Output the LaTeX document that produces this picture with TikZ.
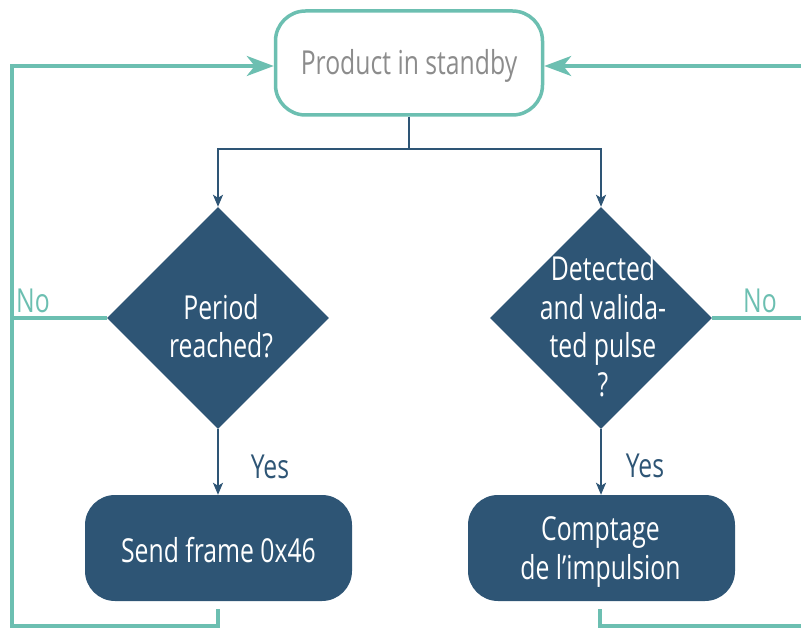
\documentclass[tikz,border=0pt]{standalone}
\usepackage{fontspec}
\setmainfont[FakeStretch=0.75]{Open Sans}
\usetikzlibrary{shapes.geometric,arrows.meta}
\definecolor{tealc}{HTML}{6CBFB1}
\definecolor{bluec}{HTML}{2E5575}
\definecolor{grayc}{HTML}{8C8C8C}
\tikzset{
  startbox/.style={draw=tealc, line width=3.5pt, rounded corners=30pt, minimum width=267pt, minimum height=104pt, inner sep=0pt},
  dia/.style={diamond, fill=bluec, minimum width=222pt, minimum height=222pt, inner sep=0pt, aspect=1},
  procbox/.style={fill=bluec, rounded corners=30pt, minimum width=267pt, minimum height=106pt, inner sep=0pt},
  lbl/.style={text=white, align=center, inner sep=0pt},
  graylbl/.style={text=grayc, inner sep=0pt},
  bline/.style={draw=bluec, line width=2pt},
  barrow/.style={bline, -{Stealth[length=12pt,width=10pt,inset=3pt]}},
  tline/.style={draw=tealc, line width=3.5pt},
  tarrow/.style={tline, -{Stealth[length=27pt,width=20pt,inset=8pt]}},
  nolbl/.style={text=tealc, inner sep=0pt},
  yeslbl/.style={text=bluec, inner sep=0pt}
}
\begin{document}
\begin{tikzpicture}[x=1pt,y=-1pt,font=\fontsize{33}{38.5}\selectfont]
\clip (0,0) rectangle (801,628);
\node[startbox] (start) at (409,63) {};
\node[graylbl] (startt) at (409,66) {Product in standby};
\node[dia] (d1) at (218,318) {};
\node[lbl] (d1t) at (221,326) {Period\\reached?};
\node[dia] (d2) at (601,318) {};
\node[lbl] (d2t) at (603,326) {Detected\\and valida-\\ted pulse\\?};
\node[procbox] (p1) at (218.5,548) {};
\node[lbl] (p1t) at (218.5,550) {Send frame 0x46};
\node[procbox] (p2) at (601.5,548) {};
\node[lbl] (p2t) at (600.5,552) {Comptage\\de l’impulsion};
\node[yeslbl] (y1) at (270,467) {Yes};
\node[yeslbl] (y2) at (645,466) {Yes};
\node[nolbl] (n1) at (33,301) {No};
\node[nolbl] (n2) at (760,301) {No};
% blue connectors
\coordinate (bus) at (409,149);
\draw[bline] (start.south) -- (bus);
\draw[barrow] (bus) -| (d1.north);
\draw[barrow] (bus) -| (d2.north);
\draw[barrow] (d1.south) -- (d1.south |- p1.north);
\draw[barrow] (d2.south) -- (d2.south |- p2.north);
% teal connectors
\coordinate (lb) at (218,609);
\coordinate (lbb) at (218,626);
\coordinate (lc) at (12,626);
\coordinate (lt) at (12,66);
\coordinate (rb) at (600,609);
\coordinate (rbb) at (600,626);
\coordinate (rc) at (810,626);
\coordinate (rn) at (810,318);
\coordinate (rt) at (810,66);
\draw[tarrow] (lb) -- (lbb) -- (lc) -- (lt) -- (start.west |- lt);
\draw[tline] (d1.west) -- (d1.west -| lt);
\draw[tline] (rb) -- (rbb) -- (rc);
\draw[tline] (d2.east) -- (rn);
\draw[tarrow] (rt) -- (start.east |- rt);
\end{tikzpicture}
\end{document}
